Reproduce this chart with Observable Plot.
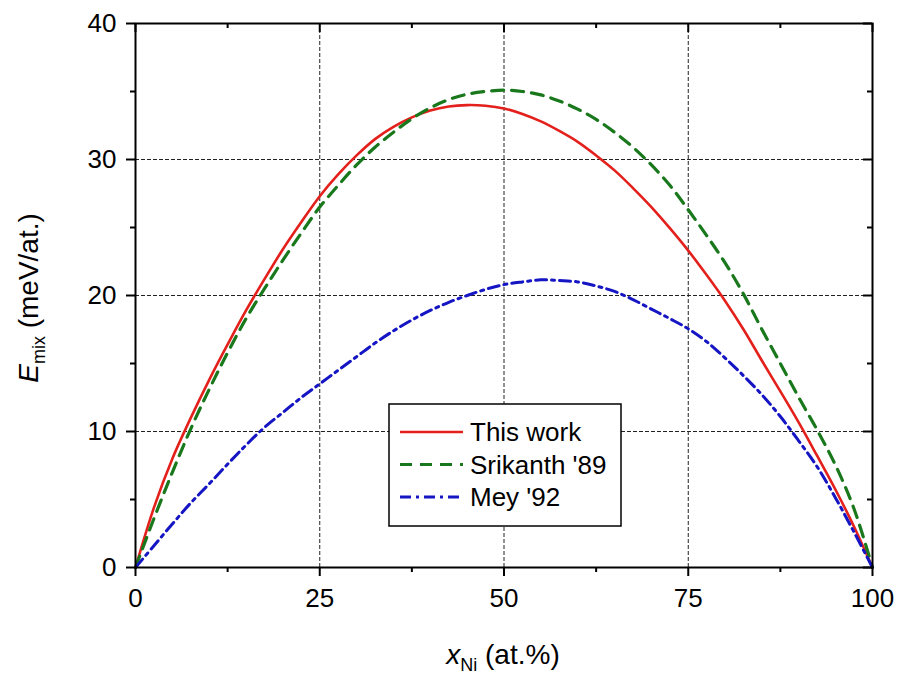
<!DOCTYPE html>
<html>
<head>
<meta charset="utf-8">
<script src="https://cdn.jsdelivr.net/npm/d3@7"></script>
<script src="https://cdn.jsdelivr.net/npm/@observablehq/plot@0.6"></script>
<style>
  html, body { margin: 0; padding: 0; background: #fff; }
  #chart { width: 902px; height: 676px; }
</style>
</head>
<body>
<div id="chart"></div>
<script>
const xNi = [0, 2.5, 5, 7.5, 10, 12.5, 15, 17.5, 20, 22.5, 25, 27.5, 30, 32.5, 35, 37.5, 40, 42.5, 45, 47.5, 50,
             52.5, 55, 57.5, 60, 62.5, 65, 67.5, 70, 72.5, 75, 77.5, 80, 82.5, 85, 87.5, 90, 92.5, 95, 97.5, 100];
const thisWork = [0, 4.4, 8.0, 11.0, 13.8, 16.4, 18.9, 21.2, 23.4, 25.4, 27.3, 28.9, 30.3, 31.5, 32.4, 33.1, 33.6, 33.9, 34.0, 33.95, 33.75,
                  33.35, 32.8, 32.1, 31.3, 30.3, 29.2, 27.9, 26.5, 24.95, 23.3, 21.5, 19.6, 17.5, 15.2, 12.95, 10.65, 8.2, 5.7, 3.0, 0];
const srikanth89 = [0, 3.6, 7.0, 10.2, 13.1, 15.8, 18.3, 20.5, 22.6, 24.6, 26.5, 28.1, 29.6, 30.9, 32.0, 33.0, 33.8, 34.4, 34.8, 35.0, 35.1,
                    35.0, 34.75, 34.3, 33.7, 32.95, 32.0, 30.9, 29.6, 28.1, 26.3, 24.4, 22.4, 20.1, 17.5, 15.0, 12.5, 10.1, 7.5, 4.3, 0];
const mey92 = [0, 1.6, 3.2, 4.75, 6.15, 7.6, 9.0, 10.3, 11.4, 12.5, 13.5, 14.5, 15.5, 16.5, 17.4, 18.2, 18.9, 19.5, 20.0, 20.45, 20.8,
               21.0, 21.15, 21.1, 21.0, 20.7, 20.3, 19.7, 19.0, 18.3, 17.55, 16.6, 15.4, 14.1, 12.7, 11.1, 9.3, 7.4, 5.1, 2.6, 0];

const seriesNames = ["This work", "Srikanth '89", "Mey '92"];
const seriesColors = ["#e3201b", "#19781c", "#1515c4"];
const seriesDash = [null, "12,8", "11,5,3,5"];
const seriesWidth = [2.6, 3.2, 3.0];
const seriesValues = [thisWork, srikanth89, mey92];

const xMajor = [0, 25, 50, 75, 100];
const xMinor = [12.5, 37.5, 62.5, 87.5];
const yMajor = [0, 10, 20, 30, 40];
const yMinor = [5, 15, 25, 35];
const xGrid = [25, 50, 75];
const yGrid = [10, 20, 30];
const xDomain = [0, 100];
const yDomain = [0, 40];

const rows = [];
seriesValues.forEach((vals, s) => vals.forEach((v, i) => rows.push({x: xNi[i], y: v, s})));

const font = "'Liberation Sans', Arial, Helvetica, sans-serif";
const tickW = 2;

const marks = [
  Plot.ruleX(xGrid, {stroke: "#222", strokeWidth: 1, strokeDasharray: "4,2"}),
  Plot.ruleY(yGrid, {stroke: "#222", strokeWidth: 1, strokeDasharray: "4,2"}),
];
seriesValues.forEach((vals, s) => {
  marks.push(Plot.line(rows.filter(d => d.s === s), {
    x: "x", y: "y", stroke: seriesColors[s], strokeWidth: seriesWidth[s],
    strokeDasharray: seriesDash[s], curve: "catmull-rom"
  }));
});
const lo = yDomain[0], hi = yDomain[1], le = xDomain[0], ri = xDomain[1];
marks.push(
  Plot.frame({stroke: "#000", strokeWidth: 2}),
  // bottom ticks (outward)
  Plot.ruleX(xMajor, {y1: lo, y2: lo, insetBottom: -9, stroke: "#000", strokeWidth: tickW}),
  Plot.ruleX(xMinor, {y1: lo, y2: lo, insetBottom: -5, stroke: "#000", strokeWidth: tickW}),
  // top ticks (inward)
  Plot.ruleX(xMajor, {y1: hi, y2: hi, insetBottom: -9, stroke: "#000", strokeWidth: tickW}),
  Plot.ruleX(xMinor, {y1: hi, y2: hi, insetBottom: -5, stroke: "#000", strokeWidth: tickW}),
  // left ticks (outward)
  Plot.ruleY(yMajor, {x1: le, x2: le, insetLeft: -9, stroke: "#000", strokeWidth: tickW}),
  Plot.ruleY(yMinor, {x1: le, x2: le, insetLeft: -5, stroke: "#000", strokeWidth: tickW}),
  // right ticks (inward)
  Plot.ruleY(yMajor, {x1: ri, x2: ri, insetLeft: -9, stroke: "#000", strokeWidth: tickW}),
  Plot.ruleY(yMinor, {x1: ri, x2: ri, insetLeft: -5, stroke: "#000", strokeWidth: tickW}),
  Plot.axisX(xMajor, {anchor: "bottom", tickSize: 0, tickPadding: 21, fontSize: 26, tickFormat: d => String(d)}),
  Plot.axisY(yMajor, {anchor: "left", tickSize: 0, tickPadding: 19, fontSize: 26, tickFormat: d => String(d)})
);

const chart = Plot.plot({
  width: 902,
  height: 676,
  marginLeft: 135,
  marginRight: 30,
  marginTop: 23,
  marginBottom: 109,
  style: {fontFamily: font, color: "#000", background: "#fff", overflow: "visible"},
  x: {domain: xDomain, label: null, axis: null},
  y: {domain: yDomain, label: null, axis: null},
  marks
});
document.getElementById("chart").appendChild(chart);

const svg = d3.select(chart);

// Axis titles with sub-scripts
const xt = svg.append("text")
  .attr("x", 503).attr("y", 664)
  .attr("text-anchor", "middle")
  .attr("font-family", font).attr("font-size", 28).attr("fill", "#000");
xt.append("tspan").attr("font-style", "italic").text("x");
xt.append("tspan").attr("font-size", 18).attr("dy", 7).text("Ni");
xt.append("tspan").attr("dy", -7).text(" (at.%)");

const yt = svg.append("text")
  .attr("transform", "translate(38,298) rotate(-90)")
  .attr("text-anchor", "middle")
  .attr("font-family", font).attr("font-size", 28).attr("fill", "#000");
yt.append("tspan").attr("font-style", "italic").text("E");
yt.append("tspan").attr("font-size", 18).attr("dy", 7).text("mix");
yt.append("tspan").attr("dy", -7).text(" (meV/at.)");

// Legend
const lg = svg.append("g").attr("text-anchor", "start");
lg.append("rect").attr("x", 389).attr("y", 404).attr("width", 232).attr("height", 122)
  .attr("fill", "#fff").attr("stroke", "#000").attr("stroke-width", 1.5);
seriesNames.forEach((name, i) => {
  const cy = 432 + i * 32.5;
  lg.append("line").attr("x1", 400).attr("x2", 463).attr("y1", cy).attr("y2", cy)
    .attr("stroke", seriesColors[i]).attr("stroke-width", seriesWidth[i])
    .attr("stroke-dasharray", seriesDash[i]);
  lg.append("text").attr("x", 470).attr("y", cy).attr("dy", "0.36em")
    .attr("text-anchor", "start")
    .attr("font-family", font).attr("font-size", 26).attr("fill", "#000").text(name);
});
</script>
</body>
</html>
